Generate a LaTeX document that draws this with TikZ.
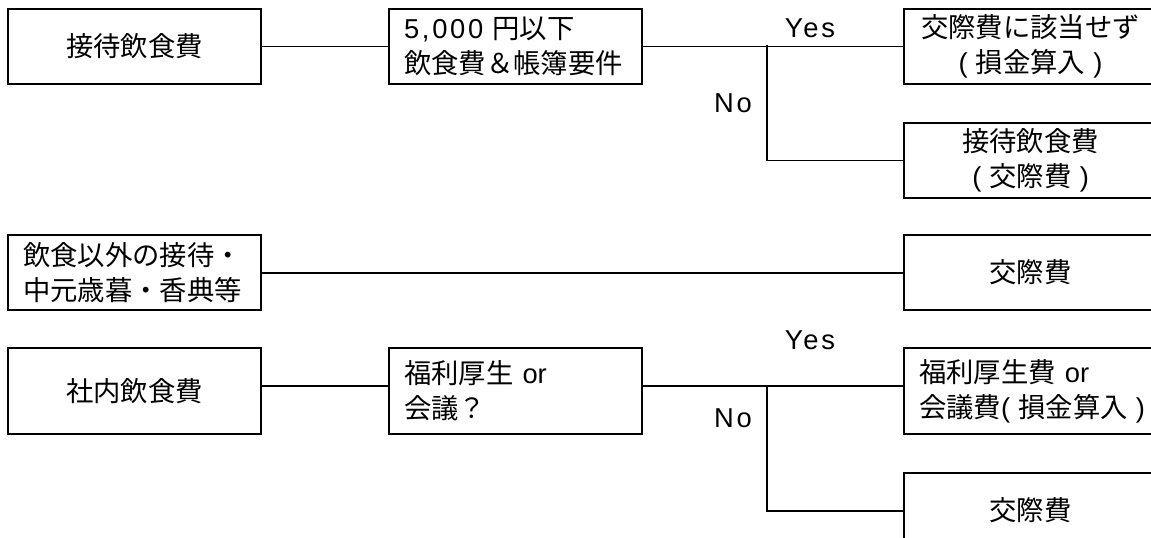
\documentclass[tikz,border=0pt]{standalone}
\usepackage{fontspec}
\setmainfont{Noto Sans CJK JP}
\newfontfamily\latfont{Liberation Sans}
\newcommand{\fs}{\fontsize{20.5pt}{26.25pt}\selectfont}
\newcommand{\lsp}[1]{{\latfont\addfontfeature{LetterSpace=10}#1}}
\newcommand{\lat}[1]{{\latfont #1}}
\newcommand{\po}{\lat{(}\hspace{0.3em}}
\newcommand{\pc}{\hspace{0.3em}\lat{)}}
\begin{document}
\begin{tikzpicture}[x=0.75pt,y=-0.75pt,
  box/.style={draw,line width=1.6pt,minimum width=189.75pt,minimum height=56.25pt,inner ysep=0pt,anchor=north west,font=\fs},
  tallbox/.style={box,minimum height=64.5pt},
  lbox/.style={inner xsep=11.25pt,text width=167.25pt,align=left},
  cbox/.style={inner xsep=0pt,align=center},
  conn/.style={line width=1.4pt},
  lab/.style={font=\fs,inner sep=0pt}]
\useasboundingbox (0,0) rectangle (1151,538);
\clip (0,0) rectangle (1151,538);
% row 1
\node[box,cbox] (A) at (7,8) {接待飲食費};
\node[box,lbox] (B) at (388,8) {\lsp{5,000} 円以下\\飲食費＆帳簿要件};
\node[box,cbox] (C) at (903,8) {交際費に該当せず\\\po 損金算入\pc};
\node[box,cbox] (D) at (903,122) {接待飲食費\\\po 交際費\pc};
\coordinate (s1) at (767,45);
\draw[conn] (A.east) -- (B.west);
\draw[conn] (B.east) -- (C.west);
\draw[conn] (s1) |- (D.west);
\node[lab] (y1) at (810,28) {\lsp{Yes}};
\node[lab] (n1) at (733,103) {\lsp{No}};
% row 2
\node[box,lbox] (E) at (7,234) {飲食以外の接待・\\中元歳暮・香典等};
\node[box,cbox] (F) at (903,234) {交際費};
\draw[conn] (E.east) -- (F.west);
% row 3
\node[tallbox,cbox] (G) at (7,347) {社内飲食費};
\node[tallbox,lbox] (H) at (388,347) {福利厚生 \lat{or}\\会議？};
\node[tallbox,lbox,text width=200pt] (I) at (903,347) {福利厚生費 \lat{or}\\会議費\lat{(}\hspace{0.3em}損金算入\pc};
\node[box,cbox] (J) at (903,472) {交際費};
\coordinate (s2) at (767,385);
\draw[conn] ([yshift=3.75pt]G.east) -- ([yshift=3.75pt]H.west);
\draw[conn] ([yshift=3.75pt]H.east) -- ([yshift=3.75pt]H.east -| I.west);
\draw[conn] (s2) |- (J.west);
\node[lab] (y2) at (810,340) {\lsp{Yes}};
\node[lab] (n2) at (733,418) {\lsp{No}};
\end{tikzpicture}
\end{document}
